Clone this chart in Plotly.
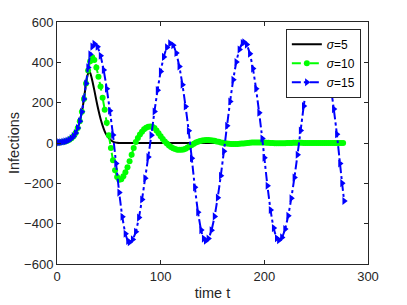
import plotly.graph_objects as go

# sigma = 5 (black)
t_s5 = [0,2,4,6,8,10,12,14,16,18,20,22,24,26,28,30,31,32,34,36,38,40,42,44,46,48,50,52,54,56,58,60,70,80,100,150,200,250,277]
v_s5 = [2,3,4,6,8,11,16,23,34,50,74,108,155,218,295,345,352,348,310,262,210,162,120,86,58,38,24,14,7,3,1,0,0,0,0,0,0,0,0]

# sigma = 10 (green)
t_s10 = [0,2,4,6,8,10,12,14,16,18,20,22,24,26,28,30,32,34,36,38,40,42,44,46,48,50,
         52,54,56,58,60,62,64,66,68,70,72,74,76,78,80,82,84,86,88,90,92,94,96,98,100,
         102,104,106,108,110,112,114,116,118,120,122,124,126,128,130,132,134,136,138,140,
         142,144,146,148,150,152,154,156,158,160,162,164,166,168,170,172,174,176,178,180,
         182,184,186,188,190,192,194,196,198,200,202,204,206,208,210,212,214,216,218,220,
         222,224,226,228,230,232,234,236,238,240,242,244,246,248,250,252,254,256,258,260,
         262,264,266,268,270,272,274,276]
v_s10 = [2,3,4,6,8,11,16,23,34,50,74,108,155,218,295,360,405,425,412,375,328,280,225,165,100,38,
         -25,-85,-135,-168,-182,-180,-165,-145,-120,-90,-58,-25,5,25,42,56,68,76,80,82,80,74,62,48,34,
         20,8,-3,-12,-20,-26,-30,-33,-34,-34,-32,-28,-22,-16,-10,-4,2,6,10,12,
         14,15,15,14,13,11,8,6,3,1,-1,-3,-4,-5,-5,-5,-5,-4,-3,-2,
         -1,0,1,2,2,3,3,3,2,2,1,1,0,0,-1,-1,-1,-1,-1,-1,
         0,0,0,1,1,1,1,1,0,0,0,0,0,0,0,0,0,0,0,0,
         0,0,0,0,0,0,0,0]

# sigma = 15 (blue)
t_s15 = [0,2,4,6,8,10,12,14,16,18,20,22,24,26,28,30,32,34,36,39,42,45,48,51,54,
         57,60,63,66,68.5,70,73,76,79,82,85,88,91,94,97,100,103,106,109,
         112,115,118,121,124,127,130,133,136,139,141.5,143.5,146,149,152,155,158,161,
         164,167,170,173,176,179,180.5,183,186,189,192,195,198,200,203,206,209,212,214,
         217,220,223,226,229,232,235,238,241,244,247,250,253,255,258,261,264,267,270,
         273,275,277]
v_s15 = [2,3,4,6,8,11,16,23,34,50,74,108,155,218,295,375,440,478,492,477,433,362,269,160,40,
         -102,-246,-366,-450,-486,-492,-478,-440,-370,-280,-175,-70,39,156,262,355,427,474,494,
         485,446,379,289,181,61,-76,-220,-343,-432,-474,-485,-474,-433,-364,-271,-162,-41,
         85,206,314,402,464,496,500,488,443,369,269,150,22,-73,-212,-332,-422,-472,-482,
         -468,-427,-361,-274,-171,-58,62,183,292,381,446,483,490,483,444,375,281,168,43,
         -102,-199,-288]

x_ticks = [0, 100, 200, 300]
y_ticks = [-600, -400, -200, 0, 200, 400, 600]

FONT = "Liberation Sans, Arial, sans-serif"

fig = go.Figure()
fig.add_trace(go.Scatter(x=t_s5, y=v_s5, mode="lines", name="<i>σ</i>=5",
                         line=dict(color="black", width=2, shape="spline", smoothing=0.6)))
fig.add_trace(go.Scatter(x=t_s10, y=v_s10, mode="lines+markers", name="<i>σ</i>=10",
                         line=dict(color="#00ff00", width=2, dash="dash", shape="spline", smoothing=0.6),
                         marker=dict(symbol="circle", size=6, color="#00ff00")))
fig.add_trace(go.Scatter(x=t_s15, y=v_s15, mode="lines+markers", name="<i>σ</i>=15",
                         line=dict(color="#0000ff", width=2, dash="dashdot", shape="spline", smoothing=0.6),
                         marker=dict(symbol="triangle-right", size=7, color="#0000ff")))

axis_common = dict(showline=True, linecolor="#262626", linewidth=1, mirror="ticks",
                   ticks="inside", ticklen=4, tickcolor="#262626", showgrid=False,
                   zeroline=False, automargin=False,
                   tickfont=dict(family=FONT, size=13, color="#262626"))

fig.update_xaxes(range=[0, 300], tickvals=x_ticks,
                 title=dict(text="time t", font=dict(family=FONT, size=14.5, color="#262626"), standoff=5),
                 **axis_common)
fig.update_yaxes(range=[-600, 600], tickvals=y_ticks,
                 title=dict(text="Infections", font=dict(family=FONT, size=14.5, color="#262626"), standoff=1),
                 **axis_common)

fig.update_layout(
    width=407, height=305,
    margin=dict(l=57, r=39, t=22, b=41),
    paper_bgcolor="white", plot_bgcolor="white",
    showlegend=True,
    legend=dict(x=0.977, y=0.972, xanchor="right", yanchor="top",
                bgcolor="white", bordercolor="#262626", borderwidth=1,
                font=dict(family=FONT, size=12, color="black"),
                tracegroupgap=0, itemwidth=30),
)

fig.write_html("out.html", config={"displayModeBar": False},
               post_script="document.body.style.margin='0';")
